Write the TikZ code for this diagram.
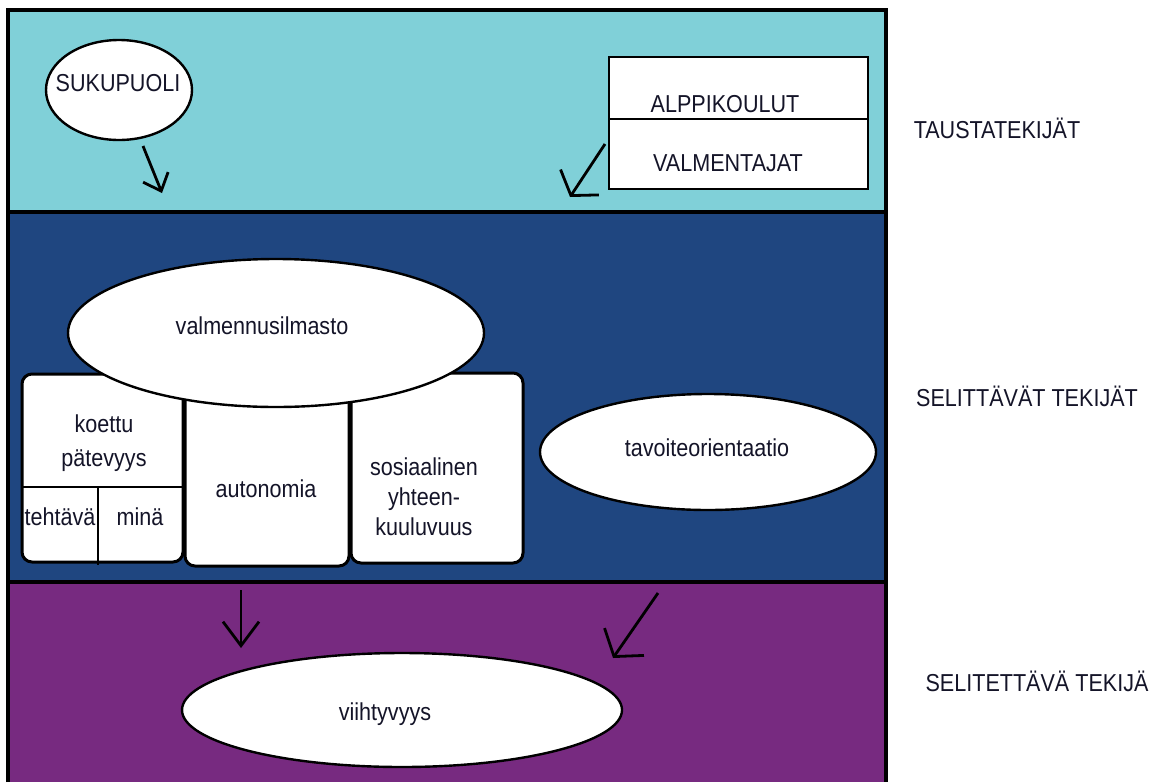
\documentclass[tikz,border=0pt]{standalone}
\usepackage{fontspec}
\setmainfont[FakeStretch=0.88]{Liberation Sans}
\usetikzlibrary{shapes.geometric,arrows.meta}
\definecolor{topc}{RGB}{128,208,216}
\definecolor{midc}{RGB}{31,70,128}
\definecolor{botc}{RGB}{119,42,128}
\definecolor{txtc}{RGB}{20,20,40}
\tikzset{
 lbl/.style={font=\fontsize{24.5}{28}\selectfont, text=txtc, inner sep=0pt, align=center},
 ell/.style={ellipse, draw=black, line width=2.4pt, fill=white, inner sep=0pt},
 rbox/.style={draw=black, line width=3pt, fill=white, rounded corners=10pt, inner sep=0pt},
 sqbox/.style={draw=black, line width=1.8pt, fill=white, inner sep=0pt},
 frameline/.style={line width=3.5pt, black},
 arr/.style={line width=2.8pt, black}
}
\begin{document}
\begin{tikzpicture}[x=1pt,y=-1pt]
\useasboundingbox (0,0) rectangle (1161,782);
% bands
\fill[topc] (8,10) rectangle (886,212);
\fill[midc] (8,212) rectangle (886,582);
\fill[botc] (8,582) rectangle (886,782);
\draw[frameline] (8,782) -- (8,10) -- (886,10) -- (886,782);
\draw[frameline] (6,212) -- (886,212);
\draw[frameline] (6,582) -- (886,582);

% top band
\node[ell, minimum width=146pt, minimum height=100pt] (suku) at (119,90) {};
\node[lbl] (sukut) at (118,83) {SUKUPUOLI};
\node[sqbox, minimum width=259pt, minimum height=62pt] (alppi) at (738.5,88) {};
\node[sqbox, minimum width=259pt, minimum height=70pt] (valm) at (738.5,154) {};
\node[lbl] (alppit) at (725,104) {ALPPIKOULUT};
\node[lbl] (valmt) at (728,163) {VALMENTAJAT};
\coordinate (a1s) at (143,146);
\coordinate (a1e) at (162,193);
\draw[arr, -{Straight Barb[length=15pt,width=27pt]}] (a1s) -- (a1e);
\coordinate (a2s) at (605,144);
\coordinate (a2e) at (570,197);
\draw[arr, -{Straight Barb[length=16pt,width=46pt]}] (a2s) -- (a2e);

% middle band
\node[rbox, minimum width=161pt, minimum height=188pt] (koettu) at (102.5,468) {};
\coordinate (kdl) at (22,487);
\coordinate (kdr) at (183,487);
\draw[line width=2.6pt] (kdl) -- (kdr);
\coordinate (kvt) at (98,487);
\coordinate (kvb) at (98,565);
\draw[line width=2.6pt] (kvt) -- (kvb);
\node[rbox, minimum width=164pt, minimum height=186pt] (auto) at (267,473) {};
\node[rbox, minimum width=172pt, minimum height=190pt] (sos) at (437,468) {};
\node[ell, minimum width=416pt, minimum height=148pt] (valmen) at (276,333) {};
\node[lbl] (valment) at (262,326) {valmennusilmasto};
\node[lbl, font=\fontsize{24.5}{34}\selectfont] (koettut) at (104,443) {koettu\\pätevyys};
\node[lbl] (tehtt) at (60,517) {tehtävä};
\node[lbl] (minat) at (140,517) {minä};
\node[lbl] (autot) at (266,489) {autonomia};
\node[lbl, font=\fontsize{24.5}{30}\selectfont] (sost) at (424,497) {sosiaalinen\\ yhteen-\\kuuluvuus};
\node[ell, minimum width=336pt, minimum height=116pt] (tavo) at (708,452) {};
\node[lbl] (tavot) at (707,448) {tavoiteorientaatio};

% bottom band
\node[ell, minimum width=440pt, minimum height=114pt] (viiht) at (402,710) {};
\node[lbl] (viihtt) at (385,714) {viihtyvyys};
\coordinate (a3s) at (241,590);
\coordinate (a3e) at (241,648);
\draw[arr, -{Straight Barb[length=24pt,width=36pt]}] (a3s) -- (a3e);
\coordinate (a4s) at (658,593);
\coordinate (a4e) at (613,658);
\draw[arr, -{Straight Barb[length=18pt,width=48pt]}] (a4s) -- (a4e);

% right labels
\node[lbl] (taus) at (997,128) {TAUSTATEKIJÄT};
\node[lbl] (selit) at (1027,396) {SELITTÄVÄT TEKIJÄT};
\node[lbl] (selet) at (1037,681) {SELITETTÄVÄ TEKIJÄ};
\end{tikzpicture}
\end{document}
